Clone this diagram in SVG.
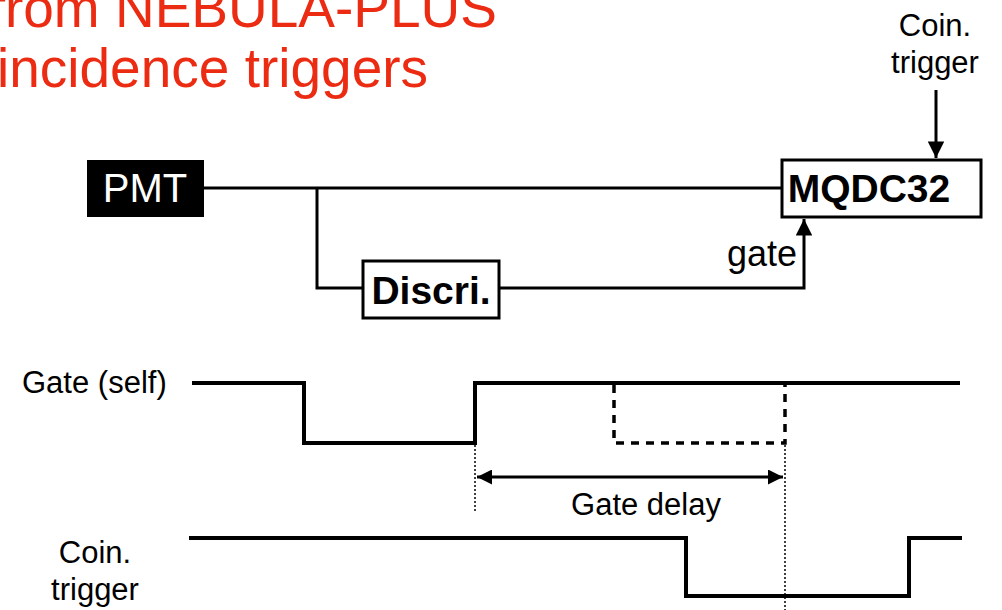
<svg xmlns="http://www.w3.org/2000/svg" width="1002" height="610" viewBox="0 0 1002 610">
  <defs>
    <marker id="ah" viewBox="0 0 10 10" refX="10" refY="5" markerWidth="6" markerHeight="5.5" orient="auto" markerUnits="strokeWidth">
      <path d="M0,0 L10,5 L0,10 z" fill="#000"/>
    </marker>
    <marker id="ah2" viewBox="0 0 10 10" refX="10" refY="5" markerWidth="6" markerHeight="5" orient="auto-start-reverse" markerUnits="strokeWidth">
      <path d="M0,0 L10,5 L0,10 z" fill="#000"/>
    </marker>
  </defs>
  <style>
    text { font-family: "Liberation Sans", Arial, sans-serif; }
    .title { fill: #EC2B13; font-size: 55px; }
    .lbl { fill: #000; font-size: 31px; }
    .big { font-size: 36px; }
    .box { fill: #fff; stroke: #000; stroke-width: 3; }
    .boxt { font-size: 39px; font-weight: bold; fill: #000; }
    .wire { fill: none; stroke: #000; stroke-width: 3; }
    .wave { fill: none; stroke: #000; stroke-width: 4; }
    .dash { fill: none; stroke: #000; stroke-width: 3.5; stroke-dasharray: 8 7; }
    .dot { fill: none; stroke: #000; stroke-width: 1.5; stroke-dasharray: 2 2; }
  </style>
  <rect width="1002" height="610" fill="#fff"/>

  <g id="title">
    <text class="title" x="497" y="27" text-anchor="end">from NEBULA-PLUS</text>
    <text class="title" x="-3" y="87">incidence triggers</text>
  </g>

  <g id="connectors">
    <path class="wire" d="M204,188 H782"/>
    <path class="wire" d="M317,188 V288 H363"/>
    <path class="wire" d="M499,288 H804 V219" marker-end="url(#ah)"/>
    <path class="wire" d="M936,90 V158" marker-end="url(#ah)"/>
  </g>

  <g id="pmt">
    <rect x="87" y="160" width="117" height="57" fill="#000"/>
    <text x="145" y="202" text-anchor="middle" fill="#fff" font-size="40">PMT</text>
  </g>

  <g id="discri">
    <rect class="box" x="363" y="261" width="136" height="57"/>
    <text class="boxt" x="431" y="304" text-anchor="middle">Discri.</text>
  </g>

  <g id="mqdc32">
    <rect class="box" x="782" y="160" width="199" height="57"/>
    <text class="boxt" x="869" y="202" text-anchor="middle">MQDC32</text>
  </g>

  <g id="gate-label">
    <text class="lbl big" x="797" y="266" text-anchor="end">gate</text>
  </g>

  <g id="coin-label-top">
    <text class="lbl" x="935" y="36" text-anchor="middle">Coin.</text>
    <text class="lbl" x="935" y="73" text-anchor="middle">trigger</text>
  </g>

  <g id="timing">
    <text class="lbl" x="22" y="393">Gate (self)</text>
    <path class="wave" d="M192,383 H304 V443 H475 V383 H960"/>
    <path class="dash" d="M614,385 V443 H785 V385"/>
    <path class="dot" d="M475,445 V512"/>
    <path class="dot" d="M785,445 V610"/>
    <path class="wire" d="M477,477 H783" marker-start="url(#ah2)" marker-end="url(#ah2)"/>
    <text class="lbl" x="646" y="515" text-anchor="middle">Gate delay</text>
    <text class="lbl" x="95" y="563" text-anchor="middle">Coin.</text>
    <text class="lbl" x="95" y="600" text-anchor="middle">trigger</text>
    <path class="wave" d="M189,538 H686 V596 H909 V538 H962"/>
  </g>
</svg>
